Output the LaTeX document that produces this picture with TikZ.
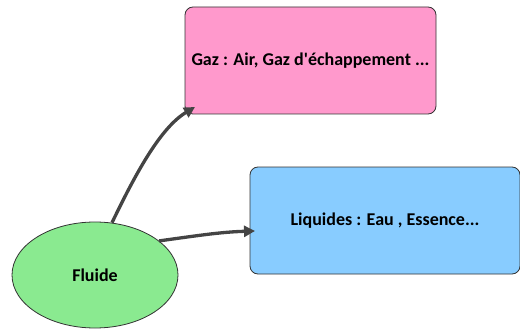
\documentclass[tikz,border=0pt]{standalone}
\usepackage{fontspec}
\setmainfont{Carlito}
\usetikzlibrary{arrows.meta,positioning,shapes.geometric}

\definecolor{gazpink}{HTML}{FF99CC}
\definecolor{liqblue}{HTML}{88CCFF}
\definecolor{fluidgreen}{HTML}{8AEA90}
\definecolor{arrowgrey}{HTML}{444444}

\begin{document}
\begin{tikzpicture}[
    x=1pt, y=-1pt,
    every node/.style={font=\bfseries\fontsize{18}{21}\selectfont},
    box/.style={draw=black!80, line width=0.8pt, rounded corners=8pt, align=center, inner sep=0pt},
    blob/.style={draw=black!80, line width=0.8pt, ellipse, fill=fluidgreen, inner sep=0pt, minimum width=166pt, minimum height=106pt},
    flow/.style={-{Triangle[length=11pt,width=11pt]}, line width=3.3pt, arrowgrey}
]
\useasboundingbox (0,0) rectangle (520,329);
\node[box, fill=gazpink, minimum width=251pt, minimum height=107pt] (gaz) at (310.5,60.5) {Gaz : Air, Gaz d\textquotesingle échappement ...};
\node[box, fill=liqblue, minimum width=270pt, minimum height=107pt] (liquides) at (385,220.5) {Liquides : Eau , Essence...};
\node[blob] (fluide) at (95,275) {Fluide};
\coordinate (gazend) at (195,107);
\coordinate (liqend) at (255,231);
\draw[flow] (fluide.72) .. controls (135,175) and (160,128) .. (gazend);
\draw[flow] (fluide.28) .. controls (195,236) and (220,232) .. (liqend);
\end{tikzpicture}
\end{document}
